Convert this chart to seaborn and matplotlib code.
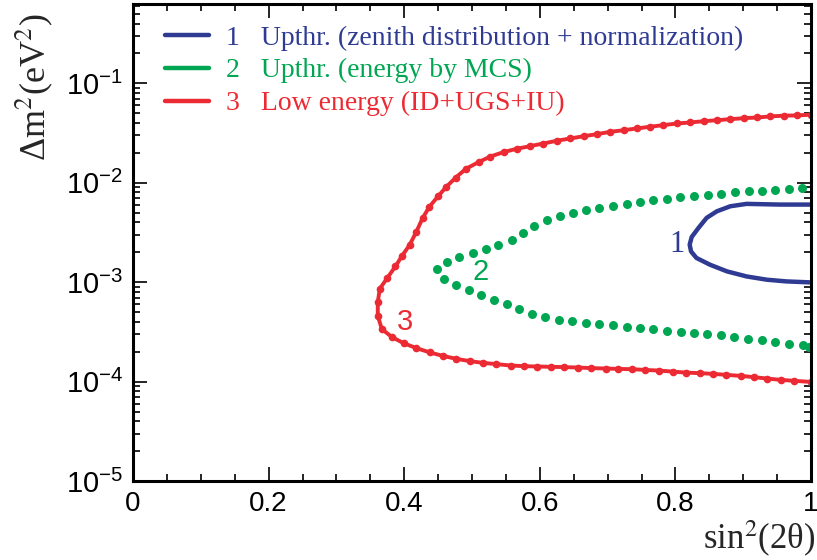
import numpy as np
import pandas as pd
import matplotlib
matplotlib.use("Agg")
import matplotlib.pyplot as plt
import seaborn as sns
from matplotlib.lines import Line2D
from matplotlib.ticker import MultipleLocator, LogLocator

# contour 3: low energy (ID+UGS+IU), closed from top-right round the nose to bottom-right
red_x = [1.0, 0.979, 0.960, 0.940, 0.921, 0.901, 0.881, 0.862, 0.842, 0.822, 0.803,
         0.782, 0.763, 0.743, 0.724, 0.704, 0.684, 0.665, 0.645, 0.625, 0.605, 0.585,
         0.566, 0.547, 0.527, 0.510, 0.491, 0.476, 0.462, 0.450, 0.437, 0.427, 0.418,
         0.408, 0.397, 0.387, 0.375, 0.364, 0.361, 0.361, 0.367, 0.382, 0.399, 0.418,
         0.438, 0.457, 0.477, 0.497, 0.516, 0.536, 0.557, 0.576, 0.596, 0.616, 0.636,
         0.656, 0.676, 0.697, 0.716, 0.736, 0.755, 0.776, 0.796, 0.815, 0.836, 0.856,
         0.875, 0.896, 0.916, 0.935, 0.955, 0.975, 1.0]
red_log_dm2 = [-1.315, -1.322, -1.325, -1.332, -1.343, -1.350, -1.360, -1.370, -1.380,
               -1.393, -1.403, -1.420, -1.436, -1.453, -1.471, -1.487, -1.511, -1.531,
               -1.554, -1.577, -1.605, -1.632, -1.658, -1.690, -1.736, -1.791, -1.859,
               -1.947, -2.041, -2.135, -2.242, -2.357, -2.491, -2.625, -2.733, -2.841,
               -2.958, -3.065, -3.200, -3.338, -3.472, -3.552, -3.613, -3.663, -3.707,
               -3.741, -3.771, -3.794, -3.811, -3.824, -3.838, -3.844, -3.848, -3.851,
               -3.854, -3.858, -3.864, -3.868, -3.872, -3.875, -3.882, -3.889, -3.899,
               -3.909, -3.915, -3.922, -3.932, -3.942, -3.955, -3.969, -3.982, -3.992,
               -4.003]

# contour 2: upthrough, energy by MCS (dotted)
green_x = [0.987, 0.968, 0.947, 0.927, 0.908, 0.888, 0.867, 0.848, 0.828, 0.807, 0.787,
           0.767, 0.748, 0.728, 0.708, 0.688, 0.668, 0.649, 0.630, 0.610, 0.591, 0.575,
           0.559, 0.539, 0.520, 0.501, 0.481, 0.463, 0.448,
           0.458, 0.476, 0.495, 0.513, 0.532, 0.551, 0.570, 0.588, 0.608, 0.628, 0.648,
           0.668, 0.688, 0.708, 0.728, 0.748, 0.767, 0.787, 0.808, 0.827, 0.847, 0.867,
           0.887, 0.907, 0.928, 0.947, 0.967, 0.988, 0.997]
green_log_dm2 = [-2.053, -2.061, -2.071, -2.078, -2.085, -2.095, -2.108, -2.118, -2.131,
                 -2.146, -2.162, -2.176, -2.194, -2.212, -2.232, -2.252, -2.277, -2.307,
                 -2.337, -2.377, -2.431, -2.504, -2.579, -2.625, -2.666, -2.706, -2.750,
                 -2.796, -2.864,
                 -2.968, -3.025, -3.083, -3.126, -3.181, -3.222, -3.270, -3.317, -3.351,
                 -3.378, -3.391, -3.408, -3.421, -3.435, -3.448, -3.458, -3.472, -3.486,
                 -3.496, -3.506, -3.519, -3.532, -3.552, -3.569, -3.586, -3.599, -3.617,
                 -3.633, -3.647]

# contour 1: upthrough, zenith distribution + normalization
blue_x = [1.0, 0.954, 0.905, 0.881, 0.861, 0.846, 0.834, 0.824, 0.821, 0.823, 0.831,
          0.851, 0.876, 0.905, 0.935, 0.964, 1.0]
blue_log_dm2 = [-2.219, -2.219, -2.212, -2.236, -2.287, -2.353, -2.454, -2.545, -2.622,
                -2.690, -2.756, -2.824, -2.891, -2.942, -2.975, -2.992, -3.002]

labels = ["1   Upthr. (zenith distribution + normalization)",
          "2   Upthr. (energy by MCS)",
          "3   Low energy (ID+UGS+IU)"]
xtick_vals = [0, 0.2, 0.4, 0.6, 0.8, 1.0]
xtick_text = ["0", "0.2", "0.4", "0.6", "0.8", "1"]

blue = "#2f3b93"
green = "#00a651"
red = "#ec2a33"

red_df = pd.DataFrame({"s": red_x, "dm2": 10.0 ** np.array(red_log_dm2)})
green_df = pd.DataFrame({"s": green_x, "dm2": 10.0 ** np.array(green_log_dm2)})
blue_df = pd.DataFrame({"s": blue_x, "dm2": 10.0 ** np.array(blue_log_dm2)})

sns.set_theme(style="ticks")
plt.rcParams["font.family"] = ["Liberation Sans", "DejaVu Sans"]
plt.rcParams["mathtext.fontset"] = "custom"
plt.rcParams["mathtext.rm"] = "Liberation Sans"
plt.rcParams["mathtext.it"] = "Liberation Sans"

fig = plt.figure(figsize=(8.17, 5.6), dpi=100)
ax = fig.add_axes([0.1628, 0.141, 0.8299, 0.852])

sns.lineplot(data=red_df, x="s", y="dm2", sort=False, estimator=None, color=red,
             lw=2.8, marker="o", markersize=5.5, markeredgewidth=0, ax=ax)
sns.scatterplot(data=green_df, x="s", y="dm2", color=green, s=42, linewidth=0, ax=ax)
sns.lineplot(data=blue_df, x="s", y="dm2", sort=False, estimator=None, color=blue,
             lw=3.2, ax=ax)

ax.set_yscale("log")
ax.set_ylim(1e-5, 0.63)
ax.xaxis.set_minor_locator(MultipleLocator(0.05))
ax.yaxis.set_major_locator(LogLocator(base=10, numticks=10))
ax.yaxis.set_minor_locator(LogLocator(base=10, subs=np.arange(2, 10), numticks=20))
ax.set_xticks(xtick_vals)
ax.set_xticklabels(xtick_text)
ax.set_xlim(0, 1)
ax.tick_params(which="both", direction="in", top=True, right=True, width=1.2,
               color="black", labelcolor="black")
ax.tick_params(axis="x", labelsize=20)
ax.tick_params(axis="y", labelsize=21)
ax.tick_params(which="major", length=10, pad=7)
ax.tick_params(which="minor", length=5)
for sp in ax.spines.values():
    sp.set_linewidth(2.2)
    sp.set_color("black")
ax.set_xlabel("")
ax.set_ylabel("")

# curve numbers
ax.text(0.802, 10 ** -2.622, "1", color=blue, fontsize=22, family="Liberation Serif",
        ha="center", va="center")
ax.text(0.512, 10 ** -2.894, "2", color=green, fontsize=21, ha="center", va="center")
ax.text(0.401, 10 ** -3.398, "3", color=red, fontsize=21, ha="center", va="center")

handles = [Line2D([], [], color=c, lw=3.2) for c in (blue, green, red)]
leg = ax.legend(handles, labels, loc="upper left", bbox_to_anchor=(0.01, 1.008),
                frameon=False, handlelength=1.6, handletextpad=0.6, labelspacing=0.27,
                prop={"family": "Liberation Serif", "size": 20},
                labelcolor=[blue, green, red])

fig.text(0.998, 0.038, r"sin$^2$(2θ)", ha="right", va="center", fontsize=25,
         family="Liberation Serif", math_fontfamily="stix")
fig.text(0.042, 0.845, r"Δm$^2$(eV$^2$)", ha="center", va="center", rotation=90,
         fontsize=26, family="Liberation Serif", math_fontfamily="stix")

fig.savefig("out.png", dpi=100)
